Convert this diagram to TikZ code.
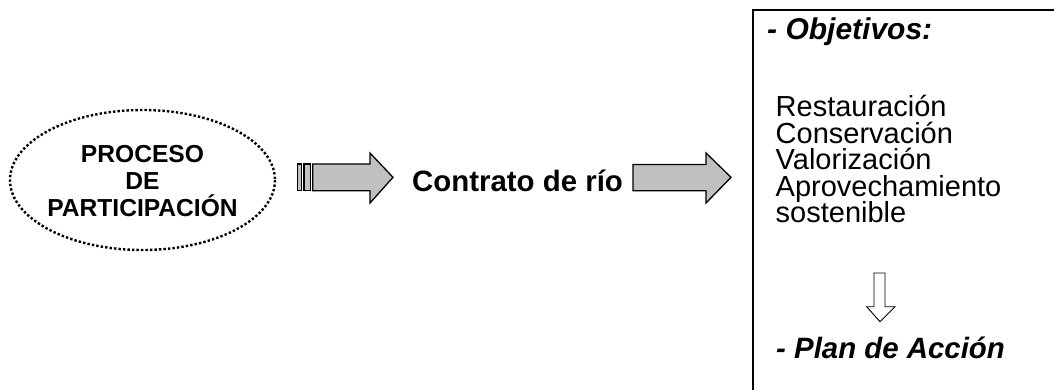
\documentclass[tikz,border=0pt]{standalone}
\usepackage{fontspec}
\setmainfont{Liberation Sans}
\definecolor{arrowgray}{RGB}{192,192,192}
\begin{document}
\begin{tikzpicture}[x=1pt,y=-1pt,
  blockarrow/.style={draw=black,line width=1.3pt,fill=arrowgray,line join=miter},
  bigtxt/.style={inner sep=0pt,anchor=base west,font=\fontsize{29}{31}\selectfont},
  elltxt/.style={inner sep=0pt,anchor=base,font=\fontsize{24.6}{27}\selectfont\bfseries},
  headtxt/.style={inner sep=0pt,anchor=base west,font=\fontsize{30}{32}\selectfont\bfseries\itshape}]
\useasboundingbox (0,0) rectangle (1054,389);
% ellipse
\draw[line width=2.4pt,dash pattern=on 2.4pt off 2.1pt] (142.5,180) ellipse [x radius=132.5,y radius=70];
\node[elltxt] (t1) at (142.5,162) {PROCESO};
\node[elltxt] (t2) at (142.5,189.5) {DE};
\node[elltxt] (t3) at (142.5,216.5) {PARTICIPACIÓN};
% arrow 1
\draw[blockarrow] (297.3,164) rectangle (301.7,190.7);
\draw[blockarrow] (304,164) rectangle (310.7,190.7);
\draw[blockarrow] (312.7,164) -- (370,164) -- (370,153) -- (393,177.3) -- (370,203) -- (370,190.7) -- (312.7,190.7) -- cycle;
% label
\node[inner sep=0pt,anchor=base west,font=\fontsize{29.4}{31}\selectfont\bfseries] (c) at (412,191.7) {Contrato de río};
% arrow 2
\draw[blockarrow] (633,164.5) -- (706,164.5) -- (706,153) -- (731,177.3) -- (706,203) -- (706,190.7) -- (633,190.7) -- cycle;
% box
\draw[line width=1.6pt] (753,400) -- (753,10) -- (1060,10);
\node[headtxt] (obj) at (767,39) {- Objetivos:};
\node[bigtxt] (l1) at (775.5,116.5) {Restauración};
\node[bigtxt] (l2) at (775.5,143) {Conservación};
\node[bigtxt] (l3) at (775.5,169.5) {Valorización};
\node[bigtxt] (l4) at (775.5,196) {Aprovechamiento};
\node[bigtxt] (l5) at (775.5,222.5) {sostenible};
% down arrow
\draw[line width=0.9pt,fill=white] (874,273) -- (885,273) -- (885,306.7) -- (895,306.7) -- (880,321.7) -- (866.7,306.7) -- (874,306.7) -- cycle;
\node[headtxt,font=\fontsize{29.4}{31}\selectfont\bfseries\itshape] (plan) at (776,358) {- Plan de Acción};
\end{tikzpicture}
\end{document}
